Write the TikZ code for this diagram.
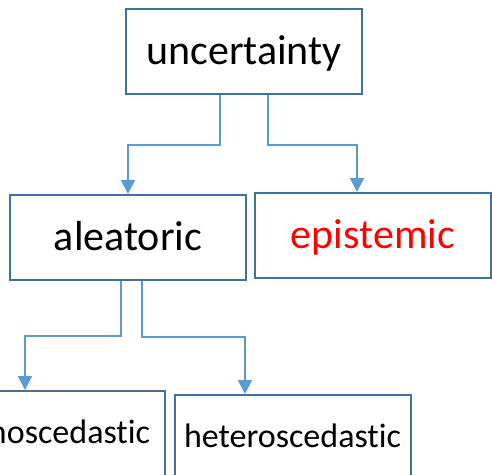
\documentclass[tikz,border=0pt]{standalone}
\usepackage{fontspec}
\setmainfont{Carlito}[Ligatures=NoCommon]
\usepackage{xcolor}
\usetikzlibrary{arrows.meta}

\definecolor{boxblue}{RGB}{65,113,156}
\definecolor{arrowblue}{RGB}{91,155,213}
\definecolor{epired}{RGB}{255,0,0}

\begin{document}
\begin{tikzpicture}[x=0.5pt, y=-0.5pt,
		box/.style={draw=boxblue, line width=1pt, minimum width=118pt, minimum height=42.5pt, inner sep=0pt},
		big/.style={font=\fontsize{21}{25}\selectfont, text height=16.8pt, text depth=4.2pt},
		small/.style={font=\fontsize{17}{20}\selectfont, text height=13.6pt, text depth=3.4pt},
		link/.style={draw=arrowblue, line width=1pt, -{Triangle[length=7pt, width=7pt]}}
	]
		\useasboundingbox (0,0) rectangle (492,475);
		\clip (0,0) rectangle (492,475);
		\node[box, big] (unc) at (244, 51.5) {uncertainty};
		\node[box, big] (ale) at (128, 237.5) {aleatoric};
		\node[box, big, text=epired] (epi) at (373, 235.5) {epistemic};
		\node[box, small] (homo) at (47, 433.5) {homoscedastic};
		\node[box, small] (hetero) at (292.5, 437.5) {heteroscedastic};
		% top level
		\draw[link] ([shift={(-24,0)}]unc.south) -- ++(0,50) -| (ale.north);
		\draw[link] ([shift={(24,0)}]unc.south) -- ++(0,50) -| ([shift={(-16,0)}]epi.north);
		% aleatoric split
		\draw[link] ([shift={(-7,0)}]ale.south) -- ++(0,55) -| ([shift={(-22,0)}]homo.north);
		\draw[link] ([shift={(14,0)}]ale.south) -- ++(0,56) -| ([shift={(-47.5,0)}]hetero.north);
	\end{tikzpicture}
\end{document}
